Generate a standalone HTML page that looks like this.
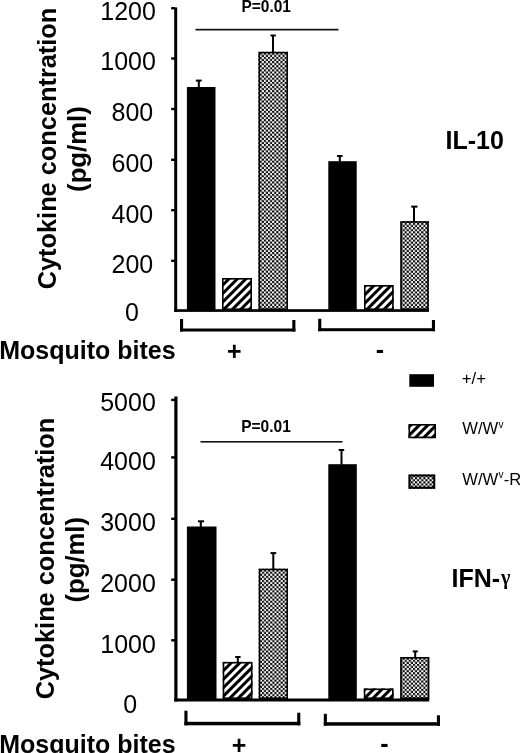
<!DOCTYPE html>
<html><head><meta charset="utf-8"><style>
html,body{margin:0;padding:0;background:#fff;}
svg{display:block;will-change:transform;}
text{font-family:"Liberation Sans", sans-serif;fill:#000;}
</style></head><body>
<svg width="520" height="753" viewBox="0 0 520 753">
<defs>
<pattern id="check" width="4" height="4" patternUnits="userSpaceOnUse">
<rect width="4" height="4" fill="#fff"/>
<rect x="0" y="0" width="2" height="2" fill="#000"/>
<rect x="2" y="2" width="2" height="2" fill="#000"/>
</pattern>
<pattern id="hatch0" width="6" height="6" patternUnits="userSpaceOnUse" patternTransform="translate(5,0) rotate(45)"><rect width="6" height="6" fill="#fff"/><rect x="0" y="0" width="3" height="6" fill="#000"/></pattern>
<pattern id="hatch1" width="6" height="6" patternUnits="userSpaceOnUse" patternTransform="translate(4,0) rotate(45)"><rect width="6" height="6" fill="#fff"/><rect x="0" y="0" width="3" height="6" fill="#000"/></pattern>
<pattern id="hatch2" width="6" height="6" patternUnits="userSpaceOnUse" patternTransform="translate(1,0) rotate(45)"><rect width="6" height="6" fill="#fff"/><rect x="0" y="0" width="3" height="6" fill="#000"/></pattern>
<pattern id="hatch3" width="6" height="6" patternUnits="userSpaceOnUse" patternTransform="translate(0.0,0) rotate(45)"><rect width="6" height="6" fill="#fff"/><rect x="0" y="0" width="3" height="6" fill="#000"/></pattern>
<pattern id="hatch4" width="6" height="6" patternUnits="userSpaceOnUse" patternTransform="translate(2.3,0) rotate(45)"><rect width="6" height="6" fill="#fff"/><rect x="0" y="0" width="3" height="6" fill="#000"/></pattern>
<pattern id="chk0" width="4.15" height="4.15" patternUnits="userSpaceOnUse" patternTransform="translate(259.69,52.76)"><rect width="4.15" height="4.15" fill="#000"/><rect x="2.075" y="0" width="2.075" height="2.075" fill="#fff"/><rect x="0" y="2.075" width="2.075" height="2.075" fill="#fff"/></pattern>
<pattern id="chk1" width="4.15" height="4.15" patternUnits="userSpaceOnUse" patternTransform="translate(400.49,222.96)"><rect width="4.15" height="4.15" fill="#000"/><rect x="2.075" y="0" width="2.075" height="2.075" fill="#fff"/><rect x="0" y="2.075" width="2.075" height="2.075" fill="#fff"/></pattern>
<pattern id="chk2" width="4.15" height="4.15" patternUnits="userSpaceOnUse" patternTransform="translate(257.79,571.66)"><rect width="4.15" height="4.15" fill="#000"/><rect x="2.075" y="0" width="2.075" height="2.075" fill="#fff"/><rect x="0" y="2.075" width="2.075" height="2.075" fill="#fff"/></pattern>
<pattern id="chk3" width="4.15" height="4.15" patternUnits="userSpaceOnUse" patternTransform="translate(400.49,659.76)"><rect width="4.15" height="4.15" fill="#000"/><rect x="2.075" y="0" width="2.075" height="2.075" fill="#fff"/><rect x="0" y="2.075" width="2.075" height="2.075" fill="#fff"/></pattern>
<pattern id="chk4" width="4.15" height="4.15" patternUnits="userSpaceOnUse" patternTransform="translate(410.89,477.16)"><rect width="4.15" height="4.15" fill="#000"/><rect x="2.075" y="0" width="2.075" height="2.075" fill="#fff"/><rect x="0" y="2.075" width="2.075" height="2.075" fill="#fff"/></pattern>
</defs>
<rect width="520" height="753" fill="#fff"/>
<rect x="174.20" y="7.40" width="3.00" height="304.50" fill="#000" />
<rect x="171.20" y="7.00" width="3.80" height="2.40" fill="#000" />
<rect x="171.20" y="57.30" width="3.80" height="2.40" fill="#000" />
<rect x="171.20" y="107.80" width="3.80" height="2.40" fill="#000" />
<rect x="171.20" y="158.60" width="3.80" height="2.40" fill="#000" />
<rect x="171.20" y="209.00" width="3.80" height="2.40" fill="#000" />
<rect x="171.20" y="259.60" width="3.80" height="2.40" fill="#000" />
<rect x="174.20" y="309.20" width="254.80" height="2.70" fill="#000" />
<rect x="186.90" y="87.00" width="28.60" height="223.00" fill="#000" />
<rect x="222.00" y="278.00" width="30.00" height="32.00" fill="#fff" />
<rect x="222.00" y="278.00" width="30.00" height="32.00" fill="url(#hatch0)" />
<rect x="222.80" y="278.80" width="28.40" height="30.40" fill="none" stroke="#000" stroke-width="1.6"/>
<rect x="258.50" y="51.80" width="29.50" height="258.20" fill="#fff" />
<rect x="258.50" y="51.80" width="29.50" height="258.20" fill="url(#chk0)" />
<rect x="259.30" y="52.60" width="27.90" height="256.60" fill="none" stroke="#000" stroke-width="1.6"/>
<rect x="328.30" y="161.20" width="28.40" height="148.80" fill="#000" />
<rect x="364.00" y="285.00" width="29.70" height="25.00" fill="#fff" />
<rect x="364.00" y="285.00" width="29.70" height="25.00" fill="url(#hatch1)" />
<rect x="364.80" y="285.80" width="28.10" height="23.40" fill="none" stroke="#000" stroke-width="1.6"/>
<rect x="400.30" y="221.20" width="28.50" height="88.80" fill="#fff" />
<rect x="400.30" y="221.20" width="28.50" height="88.80" fill="url(#chk1)" />
<rect x="401.10" y="222.00" width="26.90" height="87.20" fill="none" stroke="#000" stroke-width="1.6"/>
<rect x="197.80" y="80.60" width="2.00" height="6.90" fill="#000" />
<rect x="195.80" y="79.60" width="5.90" height="2.00" fill="#000" />
<rect x="272.00" y="35.50" width="2.00" height="16.80" fill="#000" />
<rect x="270.50" y="34.50" width="5.30" height="2.00" fill="#000" />
<rect x="338.80" y="156.00" width="2.00" height="5.70" fill="#000" />
<rect x="337.00" y="155.00" width="5.50" height="2.00" fill="#000" />
<rect x="413.00" y="206.60" width="2.00" height="15.10" fill="#000" />
<rect x="411.20" y="205.60" width="6.30" height="2.00" fill="#000" />
<rect x="195.50" y="28.80" width="143.00" height="1.70" fill="#111" />
<text x="0" y="0" font-size="16" font-weight="bold" text-anchor="middle" transform="translate(266.2,12.1) scale(0.97,1)">P=0.01</text>
<rect x="180.00" y="319.00" width="3.10" height="12.50" fill="#000" />
<rect x="180.00" y="328.50" width="115.40" height="3.00" fill="#000" />
<rect x="292.30" y="320.00" width="3.10" height="11.50" fill="#000" />
<rect x="318.20" y="318.80" width="3.10" height="12.40" fill="#000" />
<rect x="318.20" y="328.20" width="116.80" height="3.00" fill="#000" />
<rect x="431.90" y="320.00" width="3.10" height="11.20" fill="#000" />
<text x="-0.8" y="358.6" font-size="25" font-weight="bold" text-anchor="start" >Mosquito bites</text>
<text x="234.4" y="360.2" font-size="25" font-weight="bold" text-anchor="middle" >+</text>
<text x="379.8" y="358" font-size="25" font-weight="bold" text-anchor="middle" >-</text>
<text x="445.5" y="149.2" font-size="25" font-weight="bold" text-anchor="start" >IL-10</text>
<text x="128.1" y="19.6" font-size="25" font-weight="normal" text-anchor="middle" >1200</text>
<text x="128.1" y="69.9" font-size="25" font-weight="normal" text-anchor="middle" >1000</text>
<text x="132.4" y="120.80000000000001" font-size="25" font-weight="normal" text-anchor="middle" >800</text>
<text x="132.4" y="172.20000000000002" font-size="25" font-weight="normal" text-anchor="middle" >600</text>
<text x="132.4" y="222.6" font-size="25" font-weight="normal" text-anchor="middle" >400</text>
<text x="132.4" y="273.2" font-size="25" font-weight="normal" text-anchor="middle" >200</text>
<text x="131.9" y="321.4" font-size="25" font-weight="normal" text-anchor="middle" >0</text>
<g transform="translate(55.7,148.5) rotate(-90)"><text x="0" y="0" font-size="26.2" font-weight="bold" text-anchor="middle" transform="scale(0.968,1)">Cytokine concentration</text></g>
<g transform="translate(85.8,149.1) rotate(-90)"><text x="0" y="0" font-size="25.7" font-weight="bold" text-anchor="middle">(pg/ml)</text></g>
<rect x="174.30" y="396.50" width="3.20" height="305.00" fill="#000" />
<rect x="171.20" y="398.70" width="3.80" height="2.40" fill="#000" />
<rect x="171.20" y="456.20" width="3.80" height="2.40" fill="#000" />
<rect x="171.20" y="517.60" width="3.80" height="2.40" fill="#000" />
<rect x="171.20" y="578.50" width="3.80" height="2.40" fill="#000" />
<rect x="171.20" y="639.10" width="3.80" height="2.40" fill="#000" />
<rect x="174.30" y="698.50" width="255.00" height="3.00" fill="#000" />
<rect x="186.90" y="526.50" width="29.60" height="172.50" fill="#000" />
<rect x="222.70" y="661.90" width="29.80" height="37.10" fill="#fff" />
<rect x="222.70" y="661.90" width="29.80" height="37.10" fill="url(#hatch2)" />
<rect x="223.50" y="662.70" width="28.20" height="35.50" fill="none" stroke="#000" stroke-width="1.6"/>
<rect x="258.70" y="568.70" width="29.30" height="130.30" fill="#fff" />
<rect x="258.70" y="568.70" width="29.30" height="130.30" fill="url(#chk2)" />
<rect x="259.50" y="569.50" width="27.70" height="128.70" fill="none" stroke="#000" stroke-width="1.6"/>
<rect x="328.30" y="464.20" width="28.50" height="234.80" fill="#000" />
<rect x="363.80" y="688.50" width="29.80" height="10.50" fill="#fff" />
<rect x="363.80" y="688.50" width="29.80" height="10.50" fill="url(#hatch3)" />
<rect x="364.60" y="689.30" width="28.20" height="8.90" fill="none" stroke="#000" stroke-width="1.6"/>
<rect x="400.20" y="657.00" width="29.10" height="42.00" fill="#fff" />
<rect x="400.20" y="657.00" width="29.10" height="42.00" fill="url(#chk3)" />
<rect x="401.00" y="657.80" width="27.50" height="40.40" fill="none" stroke="#000" stroke-width="1.6"/>
<rect x="199.80" y="521.30" width="2.00" height="5.70" fill="#000" />
<rect x="198.00" y="520.30" width="6.00" height="2.00" fill="#000" />
<rect x="236.80" y="657.00" width="2.00" height="5.40" fill="#000" />
<rect x="235.20" y="656.00" width="5.40" height="2.00" fill="#000" />
<rect x="272.30" y="553.10" width="2.00" height="16.10" fill="#000" />
<rect x="270.50" y="552.10" width="5.70" height="2.00" fill="#000" />
<rect x="340.50" y="450.00" width="2.00" height="14.70" fill="#000" />
<rect x="338.70" y="449.00" width="5.50" height="2.00" fill="#000" />
<rect x="414.20" y="651.40" width="2.00" height="6.10" fill="#000" />
<rect x="412.70" y="650.40" width="5.10" height="2.00" fill="#000" />
<rect x="200.50" y="441.00" width="142.00" height="1.60" fill="#111" />
<text x="0" y="0" font-size="16" font-weight="bold" text-anchor="middle" transform="translate(266,432.4) scale(0.97,1)">P=0.01</text>
<rect x="184.40" y="710.70" width="3.10" height="14.60" fill="#000" />
<rect x="184.40" y="721.80" width="115.90" height="3.50" fill="#000" />
<rect x="297.20" y="712.70" width="3.10" height="12.60" fill="#000" />
<rect x="323.80" y="713.80" width="3.10" height="11.90" fill="#000" />
<rect x="323.80" y="722.20" width="116.20" height="3.50" fill="#000" />
<rect x="436.90" y="715.30" width="3.10" height="10.40" fill="#000" />
<text x="-0.8" y="752.8" font-size="25" font-weight="bold" text-anchor="start" >Mosquito bites</text>
<text x="239" y="754" font-size="25" font-weight="bold" text-anchor="middle" >+</text>
<text x="384.3" y="752" font-size="25" font-weight="bold" text-anchor="middle" >-</text>
<text x="451.5" y="586.5" font-size="25" font-weight="bold" text-anchor="start" >IFN-<tspan font-family="Liberation Serif" font-weight="bold" font-size="20" dx="1" dy="-2.5">γ</tspan></text>
<text x="128" y="411.4" font-size="25" font-weight="normal" text-anchor="middle" >5000</text>
<text x="128" y="470.0" font-size="25" font-weight="normal" text-anchor="middle" >4000</text>
<text x="128" y="531.1999999999999" font-size="25" font-weight="normal" text-anchor="middle" >3000</text>
<text x="128" y="592.4" font-size="25" font-weight="normal" text-anchor="middle" >2000</text>
<text x="128.1" y="652.6999999999999" font-size="25" font-weight="normal" text-anchor="middle" >1000</text>
<text x="130.2" y="713.1" font-size="25" font-weight="normal" text-anchor="middle" >0</text>
<g transform="translate(53.8,558.5) rotate(-90)"><text x="0" y="0" font-size="26.2" font-weight="bold" text-anchor="middle" transform="scale(0.968,1)">Cytokine concentration</text></g>
<g transform="translate(83.6,559.8) rotate(-90)"><text x="0" y="0" font-size="25.7" font-weight="bold" text-anchor="middle">(pg/ml)</text></g>
<rect x="409.30" y="374.20" width="24.70" height="12.60" fill="#000" />
<rect x="408.50" y="424.00" width="27.50" height="14.20" fill="#fff" />
<rect x="408.50" y="424.00" width="27.50" height="14.20" fill="url(#hatch4)" />
<rect x="409.30" y="424.80" width="25.90" height="12.60" fill="none" stroke="#000" stroke-width="1.6"/>
<rect x="408.50" y="474.50" width="26.70" height="14.30" fill="#fff" />
<rect x="408.50" y="474.50" width="26.70" height="14.30" fill="url(#chk4)" />
<rect x="409.50" y="475.50" width="24.70" height="12.30" fill="none" stroke="#000" stroke-width="2"/>
<text x="461.8" y="384" font-size="16.7" font-weight="normal" text-anchor="start" >+/+</text>
<text x="462.3" y="434.4" font-size="16.6" font-weight="normal" text-anchor="start" >W/W<tspan font-size="10" dy="-6.5" dx="0.3">v</tspan></text>
<text x="462.3" y="484.8" font-size="16.6" font-weight="normal" text-anchor="start" >W/W<tspan font-size="10" dy="-6.5" dx="0.3">v</tspan><tspan dy="6.5" dx="0.3">-R</tspan></text>
</svg>
</body></html>
